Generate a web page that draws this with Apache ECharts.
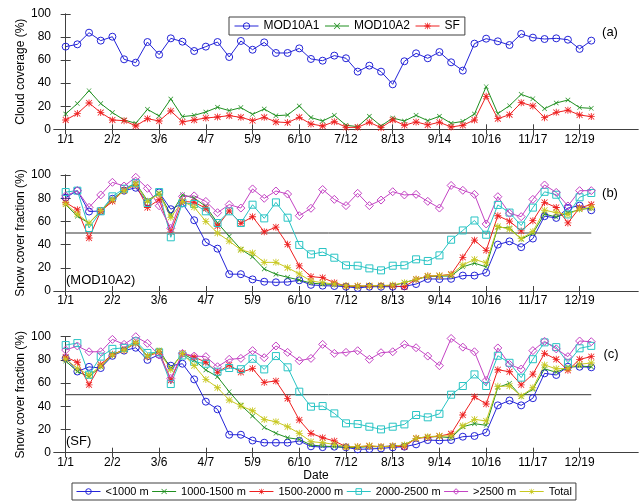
<!DOCTYPE html>
<html><head><meta charset="utf-8">
<script src="https://cdn.jsdelivr.net/npm/echarts@6/dist/echarts.min.js"></script>
<style>html,body{margin:0;padding:0;background:#fff}#c{width:639px;height:504px}</style>
</head><body><div id="c"></div>
<script>
// 8-day composite start dates (day of year 1, 9, ..., 361)
const dates = ['1/1','1/9','1/17','1/25','2/2','2/10','2/18','2/26','3/6','3/14','3/22','3/30','4/7','4/15','4/23','5/1','5/9','5/17','5/25','6/2','6/10','6/18','6/26','7/4','7/12','7/20','7/28','8/5','8/13','8/21','8/29','9/6','9/14','9/22','9/30','10/8','10/16','10/24','11/1','11/9','11/17','11/25','12/3','12/11','12/19','12/27'];
const tickLabels = ['1/1','2/2','3/6','4/7','5/9','6/10','7/12','8/13','9/14','10/16','11/17','12/19'];
const yTicks = [0, 20, 40, 60, 80, 100];
const refLevel = 50;

// (a) cloud coverage (%)
const mod10a1 = [71.7,73.7,83.8,76.9,80.3,60.7,57.8,75.7,64.7,78.9,76,67.9,71.7,75.7,62.7,76.6,69,75.4,66.2,66.2,70.2,61,59.5,63.9,61.6,50,55.2,50,39,59,65.9,61.6,67,58.1,50.9,74.3,78.6,76.3,73.1,82.7,79.5,78.3,78.9,77.7,69.7,76.9];
const mod10a2 = [13.3,22.3,33.5,22.3,14.5,8.1,5.2,17.3,11.6,26.3,11,12.1,15,19.1,16.2,18.8,13,17.6,11.8,12.4,20.2,10.2,7.2,12.1,3.5,2.3,11.3,2.9,9.8,7.2,12.1,7.5,11.3,5.2,6.9,13.3,37,13.6,20.5,30.3,26.6,17.9,22.8,25.4,18.8,18.2];
const sf = [8.1,13.6,22.8,14.5,8.1,7.5,2.9,9.2,7.2,15.9,6.4,8.1,9.8,10.7,11.8,10.4,7.5,10.4,6.4,5.8,10.4,4.6,2.9,6.6,1.7,1.7,6.1,1.4,8.1,3.5,6.4,3.8,6.1,2,3.5,8.1,28.6,9.2,12.7,23.1,20.2,10.1,14.7,16.5,12.4,11];

// (b) snow cover fraction (%), MOD10A2
const bLt1000 = [80.5,86.5,68.5,69,79.5,86.5,89,76.5,85,70.5,75.5,61,42,36.5,14.5,14.5,10,8,7.5,7.8,9.2,5.3,4.6,4.3,3.7,2.6,3.7,3.7,3.7,4,6,10.4,10.3,10.5,13.3,13.3,15.8,40,42.8,37.8,45.2,64.5,63,71.5,73.6,69.6];
const b1000 = [74.5,64.5,58.5,68.7,78.7,87.4,93,77.9,84.5,65.8,83,80,73,58.7,47.2,36,29.5,19,14.4,11.8,9.5,6.8,6,5.7,4.3,3.7,4.3,4.3,4.6,7.2,10.1,12.4,12.9,12.9,20.8,24,20.8,55,54.4,44.6,49.8,66.4,63.7,67.2,70.2,71.4];
const b1500 = [76.4,70,45.7,68.7,77.3,86.8,91.7,72,78.7,51,77.3,76.5,71.3,56,69,58.3,64,51,55,40.2,21.6,12.4,11.5,7.2,4.3,4.3,4.3,4.6,4.3,3.7,10.1,12.9,13.2,14.4,29,43.8,35,64.9,60.2,51.8,60.6,76.4,72,58.7,71.7,74.5];
const b2000 = [85.3,86.5,54.3,68.7,81.6,88.2,93,75.9,85.3,46.3,75.9,75,68.7,58.6,68.7,58.6,74.4,62.6,76.4,63.2,39.7,31.6,33.6,28.7,22.1,21.8,19.5,17.8,21.8,22.1,27.3,25.9,30.7,44.2,52.2,60.8,48.5,74.2,67.6,56.4,71.9,85.5,83,66,80.8,84.5];
const bGt2500 = [82,86.5,72.1,82.8,93.7,90.5,98,88.5,73.5,54,81.5,82,77.2,67.5,74.5,71.5,88,79.9,86.2,83.6,64.9,71.3,87.5,79,73.6,84.2,73.6,78.4,85.6,82.8,83.3,77.3,71.5,91,86.8,83.3,57.8,81.3,67,64.1,79,91.4,85,73.3,86.5,86.5];
const bTotal = [75,66.4,58.6,69.3,78.7,86.5,92.2,77.3,83.6,63.5,77.3,72.3,60,50,43,35.5,32.7,24.7,24.7,20.1,14.7,8.6,7.2,6,4.6,4.3,4.6,4.6,5.2,7.2,10.1,12.9,13.2,14.1,22.5,27.2,24.2,55.6,53.4,45.2,51.2,69.6,67.6,66,70.7,72];

// (c) snow cover fraction (%), SF
const cLt1000 = [81.5,70,74,73,83.5,88,90.5,80,84.5,75,76.7,63.2,44,37.4,15.5,15.5,10.5,8.6,8.6,8.6,10.1,5.5,4.8,5.2,4.6,2.9,3.2,3.7,4.6,5.2,7.2,10.9,10.5,10.9,13.8,14.4,17.4,40.8,45,40.8,47,68.4,67,74.1,74.1,73.6];
const c1000 = [79,70,65.5,74.1,84.2,89,94.8,83.3,88.5,72.7,85.6,79.9,71.3,65.5,52.6,41.1,31.6,21.8,16.7,12.9,11.5,6.6,5.7,5.2,4.6,4.6,5.2,5.2,5.7,6.6,12.4,13.8,13.8,12.9,22.4,25,23.6,56.3,59.8,48.5,54.8,72.3,69.3,73.6,74.7,74.1];
const c1500 = [82.5,78,58.5,76.1,84.8,88.5,94.3,82.8,87,62.5,85.6,82.5,78,69.3,75.6,69.3,72.5,60.6,61.8,46.8,28.2,16.7,12.9,10.1,5.2,5.2,5.7,5.2,5.7,5.2,12.4,13.2,14.4,16.3,32.5,48.3,42,71.5,69.8,58.5,67.7,85.6,80.5,71,80.5,82.8];
const c2000 = [92.8,94.5,67.2,82.8,89.5,90.4,96,86,86.5,59.2,83.8,78.4,76.7,69.8,73,72,81,71.8,83.3,73.6,52.6,39.7,40.2,33.9,25.3,24.7,22.4,20.1,22.4,24.4,32.5,30.5,33.5,50,57.5,67.5,57.5,83.6,77.5,64.7,80.6,95.1,91,77.5,90,92.1];
const cGt2500 = [88.5,92,87,87,97.7,93.4,100,94.3,84.2,64,85.6,83.3,82.8,74.1,80.5,81.3,88,81.9,92,86.5,79.3,81.3,93.4,85.6,86.5,87.9,80.5,86.2,87,93.4,90.5,83.3,75,98.5,91,87,62.3,90.3,76.1,72.1,88,96,89.5,82.8,96.3,95.7];
const cTotal = [80.7,72.7,67,74.7,84.2,88.5,94.8,83.3,87.6,71.8,85.6,75,63.2,56,45.4,40.2,36.2,28.7,26.7,22.4,16.7,9.5,8.6,7.2,5.2,5.2,6,5.2,5.7,6.6,12.4,13.8,14.4,14.4,23.2,28.7,27.4,57.2,57.5,48.9,56,75.6,72.3,72.7,76.3,77.3];

const namesA = ['MOD10A1', 'MOD10A2', 'SF'];
const namesZ = ['<1000 m', '1000-1500 m', '1500-2000 m', '2000-2500 m', '>2500 m', 'Total'];

// ---- styling ----
const FONT = 'Liberation Sans, Arial, sans-serif';
const AST = 'path://M4.4,0h1.2v10h-1.2z M0,4.4h10v1.2h-10z M1.2,0.4l8.4,8.4l-0.8,0.8l-8.4,-8.4z M8.8,0.4l0.8,0.8l-8.4,8.4l-0.8,-0.8z';
const XMK = 'path://M1.2,0.4l8.4,8.4l-0.8,0.8l-8.4,-8.4z M8.8,0.4l0.8,0.8l-8.4,8.4l-0.8,-0.8z';
const C = {blue:'#2424d8', green:'#1f8f1f', red:'#ee2020', cyan:'#28c4c4', mag:'#c444c4', yel:'#c8c820'};
const styles = {
  circle: {sym:'circle', size:7, hollow:true},
  diamond:{sym:'diamond', size:8, hollow:true},
  square: {sym:'rect', size:7, hollow:true},
  ast:    {sym:AST, size:7, hollow:false},
  x:      {sym:XMK, size:5, hollow:false}
};
const tickPos = tickLabels.map(t => dates.indexOf(t));
const xMin = -1, xMax = dates.length + 3;

function mk(name, values, g, color, st) {
  const s = styles[st];
  return {
    type:'line', name, xAxisIndex:2*g, yAxisIndex:2*g,
    data: values.map((v,i)=>[i,v]),
    symbol: s.sym, symbolSize: s.size, showAllSymbol:true,
    lineStyle:{color, width:1},
    itemStyle: s.hollow ? {color:'transparent', borderColor:color, borderWidth:1} : {color, borderWidth:0},
    emphasis:{disabled:true}, animation:false
  };
}
function refSeries(g) {
  return {type:'line', xAxisIndex:2*g, yAxisIndex:2*g, data:[[0,refLevel],[dates.length-1,refLevel]],
    symbol:'none', lineStyle:{color:'#333', width:1}, silent:true, animation:false, z:1};
}

const gridsPx = [{top:14, height:115.3},{top:175, height:116},{top:336.7, height:116}];
const grid = gridsPx.map(g => ({left:54, right:1, top:g.top, height:g.height, containLabel:false}));
const axisLineS = {show:true, lineStyle:{color:'#404040', width:1}};
const xAxis = [], yAxis = [];
gridsPx.forEach((g, gi) => {
  xAxis.push({type:'value', gridIndex:gi, position:'bottom', min:xMin, max:xMax,
    axisLine:axisLineS, splitLine:{show:false},
    axisTick:{show:true, inside:true, length:5, customValues:tickPos, lineStyle:{color:'#404040'}},
    axisLabel:{show:true, customValues:tickPos, margin:4, color:'#000', fontSize:12, fontFamily:FONT,
      formatter:v => dates[Math.round(v)]}});
  xAxis.push({type:'value', gridIndex:gi, position:'top', min:xMin, max:xMax,
    axisLine:axisLineS, splitLine:{show:false},
    axisTick:{show:true, inside:true, length:5, customValues:tickPos, lineStyle:{color:'#404040'}},
    axisLabel:{show:false}});
  yAxis.push({type:'value', gridIndex:gi, position:'left', min:0, max:100, interval:20,
    axisLine:axisLineS, splitLine:{show:false},
    axisTick:{show:true, inside:true, length:5, lineStyle:{color:'#404040'}},
    axisLabel:{show:true, margin:3, color:'#000', fontSize:12, fontFamily:FONT}});
  yAxis.push({type:'value', gridIndex:gi, position:'right', min:0, max:100, interval:20,
    axisLine:axisLineS, splitLine:{show:false},
    axisTick:{show:true, inside:true, length:5, lineStyle:{color:'#404040'}},
    axisLabel:{show:false}});
});

const series = [
  mk(namesA[0], mod10a1, 0, C.blue, 'circle'),
  mk(namesA[1], mod10a2, 0, C.green, 'x'),
  mk(namesA[2], sf, 0, C.red, 'ast'),
  refSeries(1), refSeries(2)
];
[[bLt1000,b1000,b1500,b2000,bGt2500,bTotal],[cLt1000,c1000,c1500,c2000,cGt2500,cTotal]].forEach((arr, k) => {
  const g = k + 1;
  series.push(mk(namesZ[0], arr[0], g, C.blue, 'circle'));
  series.push(mk(namesZ[1], arr[1], g, C.green, 'x'));
  series.push(mk(namesZ[2], arr[2], g, C.red, 'ast'));
  series.push(mk(namesZ[3], arr[3], g, C.cyan, 'square'));
  series.push(mk(namesZ[4], arr[4], g, C.mag, 'diamond'));
  series.push(mk(namesZ[5], arr[5], g, C.yel, 'ast'));
});

function txt(text, x, y, size, rot, align) {
  return {type:'text', x, y, rotation: rot||0, silent:true,
    style:{text, fontSize:size, fontFamily:FONT, fill:'#000', align:align||'center', verticalAlign:'middle'}};
}

const option = {
  animation:false,
  backgroundColor:'#fff',
  grid, xAxis, yAxis, series,
  legend:[
    {data:namesA, left:229, top:17, orient:'horizontal', itemWidth:24, itemHeight:8, itemGap:5,
     padding:[3,5,3,5], borderColor:'#404040', borderWidth:1, backgroundColor:'#fff',
     lineStyle:{width:1}, itemStyle:{borderWidth:1},
     textStyle:{fontSize:12, fontFamily:FONT, color:'#000'}, selectedMode:false},
    {data:namesZ, left:72, top:483, orient:'horizontal', itemWidth:24, itemHeight:7, itemGap:3,
     padding:[3,4,3,4], borderColor:'#404040', borderWidth:1, backgroundColor:'#fff',
     lineStyle:{width:1}, itemStyle:{borderWidth:1},
     textStyle:{fontSize:11, fontFamily:FONT, color:'#000'}, selectedMode:false}
  ],
  graphic:[
    txt('Cloud coverage (%)', 21, 71.7, 12, Math.PI/2),
    txt('Snow cover fraction (%)', 21, 233, 12, Math.PI/2),
    txt('Snow cover fraction (%)', 21, 394.7, 12, Math.PI/2),
    txt('(a)', 610, 32, 13),
    txt('(b)', 610, 193, 13),
    txt('(c)', 611, 354, 13),
    txt('(MOD10A2)', 66, 280, 13, 0, 'left'),
    txt('(SF)', 66, 441.7, 13, 0, 'left'),
    txt('Date', 316, 476, 12)
  ]
};
const chart = echarts.init(document.getElementById('c'), null, {renderer:'canvas'});
chart.setOption(option);
</script></body></html>
